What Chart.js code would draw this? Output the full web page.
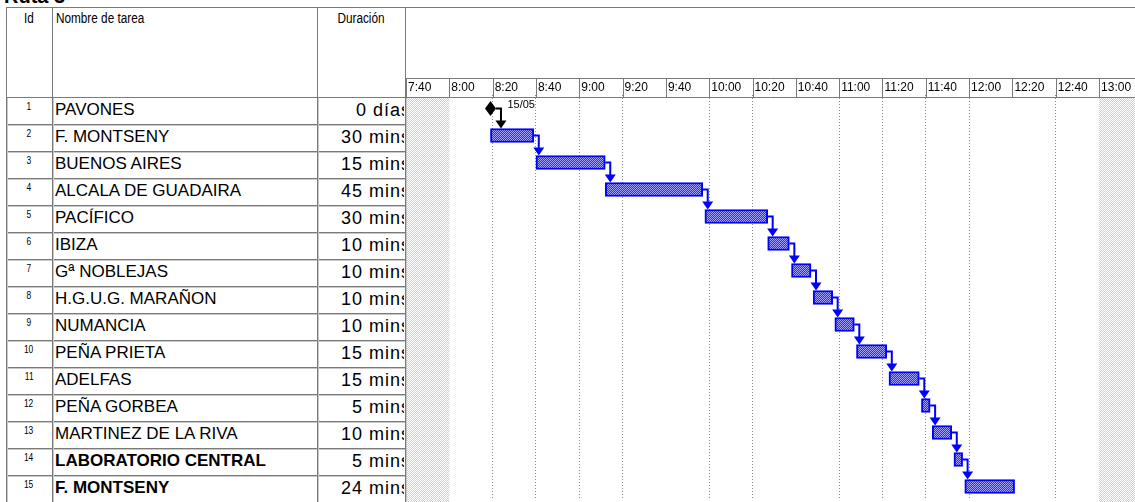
<!DOCTYPE html>
<html>
<head>
<meta charset="utf-8">
<title>Ruta 3</title>
<script src="https://cdn.jsdelivr.net/npm/chart.js@4.4.0/dist/chart.umd.min.js"></script>
<style>
  html, body { margin: 0; padding: 0; background: #fff; overflow: hidden; }
  body { width: 1135px; height: 502px; position: relative; font-family: "Liberation Sans", Arial, sans-serif; color: #000; }
  #title { position: absolute; left: 4px; top: -14px; font: bold 20px/20px "Liberation Sans", Arial, sans-serif; }
  .ln { position: absolute; background: #7a7a7a; z-index: 2; }
  .ln.lt { background: #c8c8c8; }
  .hdr { position: absolute; top: 7px; line-height: 23px; font-size: 14px; }
  .hdr span, .id span { display: inline-block; transform: scaleX(0.84); }
  .hdr.l span { transform-origin: left center; }
  .cell { position: absolute; height: 27px; white-space: nowrap; overflow: hidden; }
  .id { font-size: 10px; line-height: 17px; text-align: center; }
  .name { font-size: 17px; line-height: 24px; }
  .dur { font-size: 18px; line-height: 24px; letter-spacing: 1px; }
  .dur span { position: absolute; right: -7px; top: 0; }
  #wrap { position: absolute; left: 406px; top: 7px; width: 729px; height: 495px; }
</style>
</head>
<body>

<div id="title">Ruta 3</div>
<div id="table"></div>
<div id="wrap"><canvas id="gantt"></canvas></div>

<script>
// datos de la tabla
const ids = [1, 2, 3, 4, 5, 6, 7, 8, 9, 10, 11, 12, 13, 14, 15];
const taskNames = ['PAVONES', 'F. MONTSENY', 'BUENOS AIRES', 'ALCALA DE GUADAIRA', 'PACÍFICO', 'IBIZA',
    'Gª NOBLEJAS', 'H.G.U.G. MARAÑON', 'NUMANCIA', 'PEÑA PRIETA', 'ADELFAS', 'PEÑA GORBEA',
    'MARTINEZ DE LA RIVA', 'LABORATORIO CENTRAL', 'F. MONTSENY'];
const durations = ['0 días', '30 mins', '15 mins', '45 mins', '30 mins', '10 mins', '10 mins', '10 mins',
    '10 mins', '15 mins', '15 mins', '5 mins', '10 mins', '5 mins', '24 mins'];
const startTimes = ['8:19', '8:19', '8:40', '9:12', '9:58', '10:27', '10:38', '10:48', '10:58', '11:08',
    '11:23', '11:38', '11:43', '11:53', '11:58'];
const endTimes = ['8:19', '8:39', '9:12', '9:57', '10:27', '10:37', '10:47', '10:57', '11:07', '11:22',
    '11:37', '11:42', '11:52', '11:57', '12:21'];
const milestoneLabel = '15/05';
const tickLabels = ['7:40', '8:00', '8:20', '8:40', '9:00', '9:20', '9:40', '10:00', '10:20', '10:40',
    '11:00', '11:20', '11:40', '12:00', '12:20', '12:40', '13:00'];
const nonWorking = [['7:40', '8:00'], ['13:00', '13:20']];

const boldRows = [14, 15];
const noGridAt = ['7:40', '8:00', '9:40', '10:40', '12:20', '13:00'];

const toMin = t => { const p = t.split(':'); return +p[0] * 60 + +p[1]; };

// ---- tabla de la izquierda ----
const table = document.getElementById('table');
function add(cls, css, html) {
    const d = document.createElement('div');
    d.className = cls;
    d.style.cssText = css;
    if (html !== undefined) d.innerHTML = html;
    table.appendChild(d);
    return d;
}
add('hdr', 'left:6px;width:46px;text-align:center;', '<span>Id</span>');
add('hdr l', 'left:56px;', '<span>Nombre de tarea</span>');
add('hdr', 'left:317px;width:89px;text-align:center;', '<span>Duración</span>');

const rowTop = 98, rowH = 27;
ids.forEach((id, i) => {
    const top = rowTop + rowH * i;
    const bold = boldRows.includes(id) ? 'font-weight:bold;' : '';
    add('cell id', `left:6px;width:46px;top:${top}px;`, `<span>${id}</span>`);
    add('cell name', `left:55px;width:260px;top:${top}px;${bold}`, taskNames[i]);
    const d = add('cell dur', `left:319px;width:85px;top:${top}px;`);
    const s = document.createElement('span');
    s.textContent = durations[i];
    d.appendChild(s);
    if (i > 0) {
        add('ln', `left:6px;width:400px;top:${top - 1}px;height:1px;`);
        add('ln lt', `left:6px;width:400px;top:${top}px;height:1px;`);
    }
});
// marco
add('ln', 'left:6px;width:1129px;top:7px;height:1px;');
add('ln', 'left:6px;width:400px;top:97px;height:1px;');
[6, 52, 317, 405].forEach(x => {
    add('ln', `left:${x}px;width:1px;top:7px;height:495px;`);
    add('ln lt', `left:${x + 1}px;width:1px;top:98px;height:404px;`);
});

// ---- tramas ----
function checker(a, b) {
    const c = document.createElement('canvas');
    c.width = 2; c.height = 2;
    const g = c.getContext('2d');
    g.fillStyle = b; g.fillRect(0, 0, 2, 2);
    g.fillStyle = a; g.fillRect(0, 0, 1, 1); g.fillRect(1, 1, 1, 1);
    return c;
}
const ctx = document.getElementById('gantt').getContext('2d');
const barPattern = ctx.createPattern(checker('#2828ff', '#a4a4ff'), 'repeat');
const shadePattern = ctx.createPattern(checker('#d0d0d0', '#ffffff'), 'repeat');

const diamond = document.createElement('canvas');
diamond.width = 11; diamond.height = 15;
(function () {
    const g = diamond.getContext('2d');
    g.fillStyle = '#000';
    g.beginPath();
    g.moveTo(5.5, 0); g.lineTo(11, 7.5); g.lineTo(5.5, 15); g.lineTo(0, 7.5);
    g.closePath(); g.fill();
})();

Chart.defaults.font.family = '"Liberation Sans", Arial, sans-serif';

const ganttPlugin = {
    id: 'gantt',
    beforeDatasetsDraw(chart) {
        const {ctx, chartArea: a, scales: {x}} = chart;
        ctx.save();
        ctx.fillStyle = shadePattern;
        nonWorking.forEach(([s, e]) => {
            const x0 = Math.max(a.left, x.getPixelForValue(toMin(s)));
            const x1 = Math.min(a.right, x.getPixelForValue(toMin(e)));
            if (x1 > x0) ctx.fillRect(x0, 91, x1 - x0, chart.height - 91);
        });
        ctx.restore();
    },
    afterDatasetsDraw(chart) {
        const {ctx} = chart;
        const bars = chart.getDatasetMeta(0).data;
        const ms = chart.getDatasetMeta(1).data[0];
        ctx.save();
        ctx.lineWidth = 2;
        for (let i = 0; i < ids.length - 1; i++) {
            let right, cy, col;
            if (i === 0) {
                right = ms.x + diamond.width / 2; cy = ms.y; col = '#000';
            } else {
                const b = bars[i];
                right = Math.max(b.x, b.base); cy = b.y; col = '#0000ff';
            }
            const nb = bars[i + 1];
            const top = nb.y - nb.height / 2;
            const ex = right + 5;
            ctx.strokeStyle = col;
            ctx.fillStyle = col;
            ctx.beginPath();
            ctx.moveTo(right, cy); ctx.lineTo(ex, cy); ctx.lineTo(ex, top - 7);
            ctx.stroke();
            ctx.beginPath();
            ctx.moveTo(ex - 5.5, top - 8); ctx.lineTo(ex + 5.5, top - 8); ctx.lineTo(ex, top);
            ctx.closePath(); ctx.fill();
        }
        ctx.fillStyle = '#000';
        ctx.font = '11px "Liberation Sans", Arial, sans-serif';
        ctx.textBaseline = 'middle';
        ctx.fillText(milestoneLabel, ms.x + 17, ms.y - 4);
        ctx.restore();
    },
    afterDraw(chart) {
        // fila de la escala de tiempo
        const {ctx, scales: {x}} = chart;
        ctx.save();
        ctx.strokeStyle = '#7a7a7a';
        ctx.lineWidth = 1;
        ctx.beginPath();
        ctx.moveTo(0, 71.5); ctx.lineTo(chart.width, 71.5);
        ctx.moveTo(0, 90.5); ctx.lineTo(chart.width, 90.5);
        x.ticks.forEach(t => {
            const px = Math.round(x.getPixelForValue(t.value)) + 0.5;
            ctx.moveTo(px, 71); ctx.lineTo(px, 91);
        });
        ctx.stroke();
        ctx.restore();
    }
};

new Chart(ctx, {
    type: 'bar',
    data: {
        labels: ids.map(String),
        datasets: [{
            label: 'Tareas',
            data: ids.map((_, i) => startTimes[i] === endTimes[i] ? null : [toMin(startTimes[i]), toMin(endTimes[i])]),
            backgroundColor: barPattern,
            borderColor: '#0000ff',
            borderWidth: 2,
            borderSkipped: false,
            barThickness: 14,
            grouped: false
        }, {
            type: 'scatter',
            label: 'Hito',
            data: [{x: toMin(startTimes[0]), y: 0}],
            pointStyle: diamond,
            pointRadius: 5,
            showLine: false
        }]
    },
    options: {
        indexAxis: 'y',
        responsive: true,
        maintainAspectRatio: false,
        animation: false,
        layout: {autoPadding: false, padding: {bottom: 2}},
        plugins: {legend: {display: false}, tooltip: {enabled: false}},
        scales: {
            x: {
                type: 'linear',
                position: 'top',
                min: toMin('7:40'),
                max: 796.6,
                afterFit: s => { s.height = 88; },
                afterBuildTicks: s => { s.ticks = tickLabels.map(t => ({value: toMin(t)})); },
                ticks: {
                    callback: (v, i) => tickLabels[i],
                    align: 'start',
                    labelOffset: 2,
                    padding: 0,
                    color: '#000',
                    font: {size: 12},
                    maxRotation: 0,
                    autoSkip: false
                },
                grid: {
                    drawTicks: false,
                    lineWidth: 1,
                    color: c => (c.tick && noGridAt.map(toMin).includes(c.tick.value)) ? 'rgba(0,0,0,0)' : '#8a8a8a'
                },
                border: {display: false, dash: [1, 2]}
            },
            y: {type: 'category', display: false, offset: true}
        }
    },
    plugins: [ganttPlugin]
});
</script>

</body>
</html>
